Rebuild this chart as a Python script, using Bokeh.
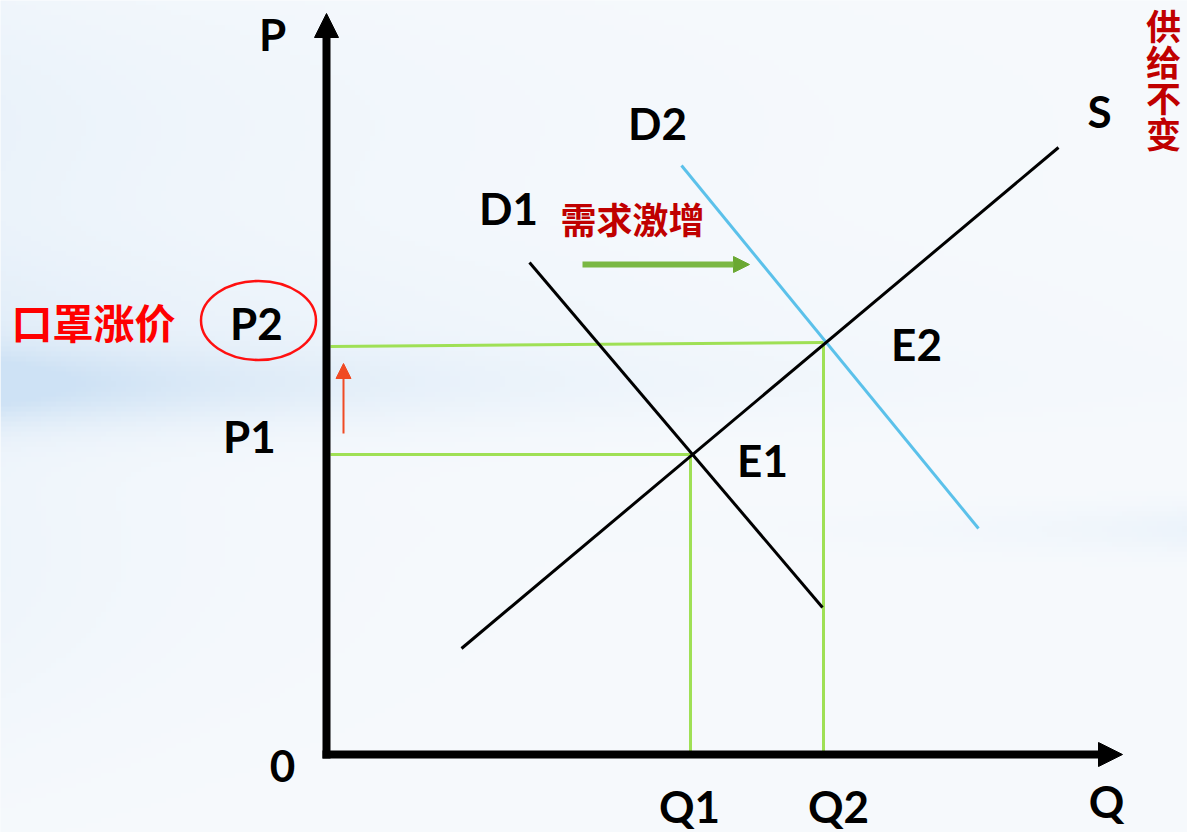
import numpy as np
from bokeh.plotting import figure
from bokeh.models import Range1d, Arrow, NormalHead, ColumnDataSource
from bokeh.core.properties import value
from bokeh.embed import file_html
from bokeh.resources import INLINE

# ---------------- data (economic units) ----------------
supply_q = [1.35, 7.32]
supply_p = [1.06, 6.07]
d1_q = [2.03, 4.96]
d1_p = [4.92, 1.47]
d2_q = [3.55, 6.52]
d2_p = [5.89, 2.26]
q_eq = [3.64, 4.97]          # Q1, Q2
p_eq = [3.00, 4.12]          # P1, P2
p2_left = 4.08               # P2 guide line at the price axis
axis_top = 7.41
axis_right = 7.96

X0, X1 = -3.26, 8.61
Y0, Y1 = -0.78, 7.54

p = figure(width=1187, height=832, x_range=Range1d(X0, X1), y_range=Range1d(Y0, Y1),
           output_backend="svg", toolbar_location=None, min_border=0,
           background_fill_color="#f6f9fd", border_fill_color="#f6f9fd")
p.axis.visible = False
p.grid.visible = False
p.outline_line_color = None

# ---------------- soft background ----------------
H, W = 166, 238
ys = np.linspace(832, 0, H)[:, None]   # reference pixel y (bottom row first)
xs = np.linspace(0, 1187, W)[None, :]
base = np.array([247, 250, 253], float)
blue = np.array([206, 226, 245], float)
w = (0.85 * np.exp(-((ys - 385) / 38) ** 2) * np.exp(-xs / 330)
     + 0.35 * np.exp(-((ys - 330) / 90) ** 2) * np.exp(-xs / 500)
     + 0.30 * np.exp(-((ys - 120) / 160) ** 2) * np.exp(-xs / 420)
     + 0.25 * np.exp(-((ys - 530) / 25) ** 2) * np.exp(-(1187 - xs) / 200)
     + 0.20 * np.exp(-((ys - 560) / 200) ** 2) * np.exp(-xs / 250))
w = np.clip(w, 0, 1)[..., None]
rgb = base * (1 - w) + blue * w
img = np.zeros((H, W, 4), dtype=np.uint8)
img[..., :3] = rgb.astype(np.uint8)
img[..., 3] = 255
p.image_rgba(image=[img.view(dtype=np.uint32).reshape(H, W)], x=X0, y=Y0, dw=X1 - X0, dh=Y1 - Y0)

# ---------------- guide lines ----------------
green = "#9fe055"
p.line([0.04, q_eq[1]], [p2_left, p_eq[1]], line_color=green, line_width=3)
p.line([q_eq[1], q_eq[1]], [0, p_eq[1]], line_color=green, line_width=3)
p.line([0.04, q_eq[0]], [p_eq[0], p_eq[0]], line_color=green, line_width=3)
p.line([q_eq[0], q_eq[0]], [0, p_eq[0]], line_color=green, line_width=3)

# ---------------- curves ----------------
p.line(d2_q, d2_p, line_color="#5bc1ea", line_width=3)
p.line(d1_q, d1_p, line_color="black", line_width=3)
p.line(supply_q, supply_p, line_color="black", line_width=3)

# ---------------- axes ----------------
p.add_layout(Arrow(end=NormalHead(size=24, fill_color="black", line_color="black"),
                   x_start=0, y_start=-0.04, x_end=0, y_end=axis_top,
                   line_width=8, line_color="black"))
p.add_layout(Arrow(end=NormalHead(size=24, fill_color="black", line_color="black"),
                   x_start=-0.04, y_start=0, x_end=axis_right, y_end=0,
                   line_width=8, line_color="black"))

# small arrows
p.add_layout(Arrow(end=NormalHead(size=15, fill_color="#f04a24", line_color="#f04a24"),
                   x_start=0.17, y_start=3.21, x_end=0.17, y_end=3.91,
                   line_width=2, line_color="#f04a24"))
p.add_layout(Arrow(end=NormalHead(size=16, fill_color="#6aa832", line_color="#6aa832"),
                   x_start=2.56, y_start=4.90, x_end=4.23, y_end=4.90,
                   line_width=6, line_color="#7ab843"))

# ellipse round P2
p.ellipse(x=-0.68, y=4.34, width=1.15, height=0.79, fill_color=None,
          line_color="#ff1010", line_width=2.5)

# ---------------- labels ----------------
lab_text = ["P", "0", "Q", "Q1", "Q2", "P1", "P2", "D1", "D2", "S", "E1", "E2"]
lab_x = [-0.54, -0.44, 7.80, 3.63, 5.12, -0.77, -0.70, 1.82, 3.31, 7.73, 4.36, 5.90]
lab_y = [7.21, -0.11, -0.46, -0.51, -0.51, 3.19, 4.32, 5.47, 6.32, 6.44, 2.95, 4.11]
src = ColumnDataSource(dict(x=lab_x, y=lab_y, t=lab_text))
p.text(x="x", y="y", text="t", source=src, text_font=value("Lato"), text_font_style="bold",
       text_font_size="44px", text_color="black", text_align="center", text_baseline="middle")

p.text(x=[3.06], y=[5.37], text=["需求激增"], text_font=value("Noto Sans CJK SC"),
       text_font_style="bold", text_font_size="36px", text_color="#c00000",
       text_align="center", text_baseline="middle")
p.text(x=[-2.33], y=[4.34], text=["口罩涨价"], text_font=value("Noto Sans CJK SC"),
       text_font_style="bold", text_font_size="41px", text_color="#ff0000",
       text_align="center", text_baseline="middle")
p.text(x=[8.37] * 4, y=[7.30, 6.94, 6.58, 6.22], text=list("供给不变"),
       text_font=value("Noto Sans CJK SC"), text_font_style="bold", text_font_size="35px",
       text_color="#c00000", text_align="center", text_baseline="middle")

open("out.html", "w").write(file_html(p, INLINE))
